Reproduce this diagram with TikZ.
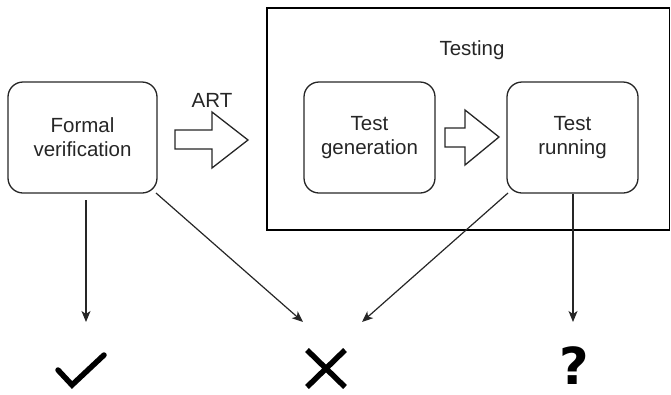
\documentclass[tikz,border=0pt]{standalone}
\usepackage{fontspec}
\setmainfont{Liberation Sans}
\newfontfamily\qfont{DejaVu Sans}
\usetikzlibrary{arrows.meta}
\tikzset{
  box/.style={draw=black!85, line width=1.3pt, rounded corners=15pt, minimum width=149pt, minimum height=111pt, align=center, font=\fontsize{20.5}{24}\selectfont, text=black!85, inner sep=0pt},
  fat/.style={draw=black!85, line width=1.3pt, fill=white},
  link/.style={draw=black!85, line width=1.2pt, -{Stealth[length=11pt,width=9pt,inset=3pt]}},
  lbl/.style={font=\fontsize{20.5}{24}\selectfont, text=black!85, inner sep=0pt},
  glyphline/.style={line width=5.5pt, line cap=round, line join=miter}
}
\begin{document}
\begin{tikzpicture}[x=1pt,y=-1pt]
  \useasboundingbox (0,0) rectangle (671,394);

  % group frame for testing
  \draw[black, line width=1.3pt] (267,8) rectangle (669.5,230);
  \node[lbl] (testing) at (472,50) {Testing};

  % process boxes
  \node[box, minimum width=149pt] (fv) at (82.5,137.5) {Formal\\verification};
  \node[box, minimum width=131pt] (gen) at (369.5,137.5) {Test\\generation};
  \node[box, minimum width=131pt] (run) at (572.5,137.5) {Test\\running};

  % block arrows
  \draw[fat] (175,130) -- (212,130) -- (212,112) -- (248,140) -- (212,168) -- (212,149) -- (175,149) -- cycle;
  \node[lbl] (art) at (212,100) {ART};
  \draw[fat] (445,128) -- (465,128) -- (465,110) -- (499,137) -- (465,165) -- (465,147) -- (445,147) -- cycle;

  % outcome symbols
  \node[inner sep=0pt, font=\qfont\bfseries\fontsize{51}{51}\selectfont] (unk) at (574,366) {?};
  \draw[glyphline] (58,370) -- (72,385) -- (104,355);
  \draw[glyphline, line cap=butt] (307,350) -- (345,387) (345,350) -- (307,387);

  % connectors
  \coordinate (fvBottom) at (86,200);
  \coordinate (fvCorner) at (156,193);
  \coordinate (runCorner) at (508,193);
  \coordinate (okTip) at (86,322);
  \coordinate (failL) at (303,322);
  \coordinate (failR) at (362,322);
  \coordinate (unkTip) at (573,322);
  \draw[link] (fvBottom) -- (okTip);
  \draw[link] (fvCorner) -- (failL);
  \draw[link] (runCorner) -- (failR);
  \draw[link] (run.south -| unkTip) -- (unkTip);
\end{tikzpicture}
\end{document}
